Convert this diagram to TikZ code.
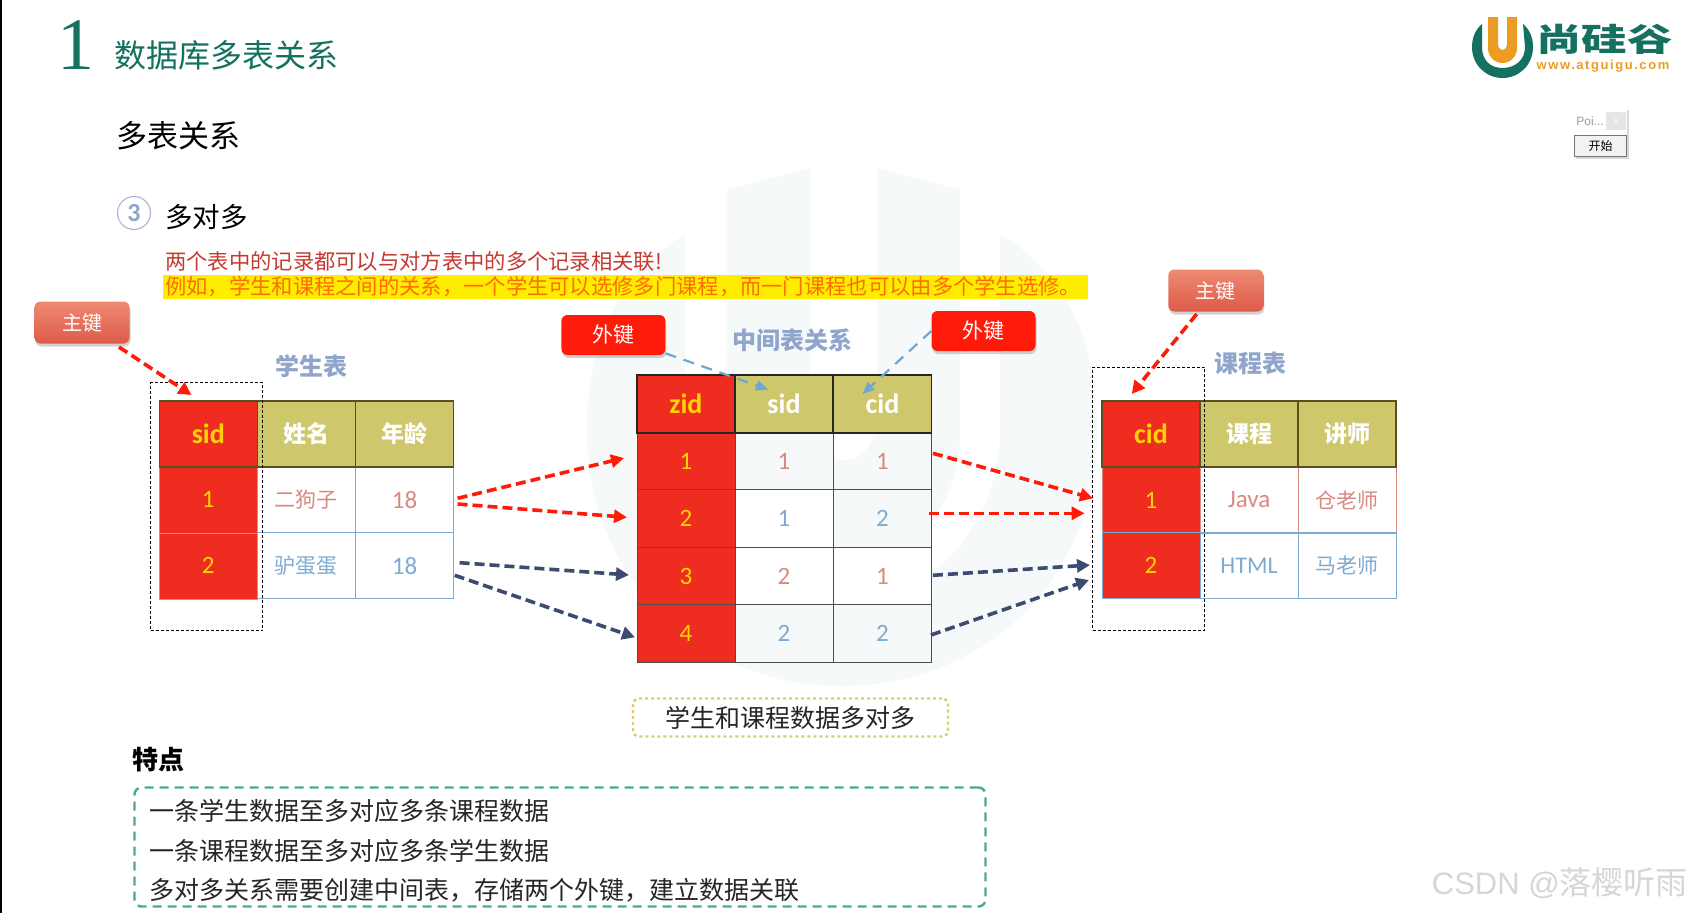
\documentclass[tikz,border=0pt]{standalone}
\usepackage{fontspec}
\usepackage{xcolor}
\usetikzlibrary{arrows.meta,shadows,shadings}
\setmainfont{Noto Sans CJK SC}
\newfontfamily\numfont{Carlito}
\newfontfamily\serffont{Liberation Serif}
\newfontfamily\armfont{Liberation Sans}
\newfontfamily\urlfont[LetterSpace=12]{Liberation Sans}
\newcommand{\px}[1]{\fontsize{#1}{#1}\selectfont}
\newcommand{\zhcomma}{^^^^ff0c}

\definecolor{brandgreen}{HTML}{14705F}
\definecolor{brandorange}{HTML}{EC9C22}
\definecolor{pale}{HTML}{F5F9F9}
\definecolor{cellred}{HTML}{EE2C20}
\definecolor{celltext}{HTML}{FFD400}
\definecolor{olive}{HTML}{CFC76C}
\definecolor{olivedark}{HTML}{5A4F22}
\definecolor{rowred}{HTML}{D98A80}
\definecolor{rowblue}{HTML}{7FAAD2}
\definecolor{tabletitle}{HTML}{8FA6CA}
\definecolor{flowred}{HTML}{FF1A0A}
\definecolor{flowblue}{HTML}{3B4C6E}
\definecolor{fkblue}{HTML}{6CA8D2}
\definecolor{boxteal}{HTML}{4BA98F}
\definecolor{boxolive}{HTML}{D8CE72}
\definecolor{keytop}{HTML}{EE8A72}
\definecolor{keybottom}{HTML}{DE5A48}

\tikzset{
  cell/.style={inner sep=0pt, outer sep=0pt, minimum width=98pt, minimum height=#1, align=center},
  cell/.default=66pt,
  pkcell/.style={cell=#1, fill=cellred, text=celltext, font=\numfont\px{25}},
  pkcell/.default=66pt,
  headcell/.style={cell=#1, fill=olive, draw=olivedark, line width=1.6pt, text=white, font=\bfseries\px{23}},
  headcell/.default=66pt,
  redrow/.style={cell, draw=rowred, line width=1pt, text=rowred, font=\px{21}},
  bluerow/.style={cell, draw=rowblue, line width=1pt, text=rowblue, font=\px{21}},
  midcell/.style={cell=57.5pt, draw=black!70, line width=1pt, font=\numfont\px{25}},
  dotbox/.style={draw=black, line width=0.9pt, densely dashed, minimum width=112pt, inner sep=0pt},
  mainkey/.style={rounded corners=6pt, top color=keytop, bottom color=keybottom,
    drop shadow={opacity=0.35, shadow xshift=1pt, shadow yshift=-3pt},
    text=white, minimum width=95pt, minimum height=42pt, inner sep=0pt, font=\px{20}},
  forkey/.style={rounded corners=6pt, fill=flowred, drop shadow={opacity=0.35, shadow xshift=1pt, shadow yshift=-3pt},
    text=white, minimum width=104pt, minimum height=40pt, inner sep=0pt, font=\px{21}},
  tabletag/.style={text=tabletitle, inner sep=0pt, font=\bfseries\px{24}},
  redflow/.style={->, draw=flowred, line width=3.6pt, dash pattern=on 10pt off 5pt},
  blueflow/.style={->, draw=flowblue, line width=3.6pt, dash pattern=on 10pt off 5pt},
  fkflow/.style={-{Triangle[length=12pt,width=10pt]}, draw=fkblue, line width=2.2pt, dash pattern=on 11pt off 8pt},
  bodyline/.style={anchor=west, inner sep=0pt, text=black!85, font=\px{25}},
}

\begin{document}
\begin{tikzpicture}[x=1pt, y=-1pt, >={Triangle[length=13pt,width=13pt]}]
  \useasboundingbox (0,0) rectangle (1689,913);
  \fill[white] (0,0) rectangle (1689,913);

  % Pale background mark
  \fill[pale] (685,235) .. controls (620,270) and (587,340) .. (587,430)
    .. controls (587,580) and (700,686) .. (842,686)
    .. controls (984,686) and (1097,580) .. (1097,430)
    .. controls (1097,340) and (1064,270) .. (1000,235)
    -- (1000,430) .. controls (1000,530) and (930,600) .. (842,600)
    .. controls (754,600) and (685,530) .. (685,430) -- cycle;
  \fill[pale] (727,190) -- (810,168) -- (810,410)
    .. controls (810,445) and (825,460) .. (843,460)
    .. controls (862,460) and (877,445) .. (877,410)
    -- (877,168) -- (960,190) -- (960,430)
    .. controls (960,510) and (910,565) .. (842,565)
    .. controls (775,565) and (727,510) .. (727,430) -- cycle;

  \draw[black, line width=1.6pt] (1,0) -- (1,913);

  % Title and logo
  \node (num) at (76,45) [text=brandgreen, inner sep=0pt, font=\serffont\px{74}] {1};
  \node (title) at (226.5,55) [text=brandgreen, inner sep=0pt, font=\px{32}] {数据库多表关系};
  \fill[brandgreen] (1482,24) .. controls (1475,30) and (1472,38) .. (1472,47)
    .. controls (1472,65) and (1486,78) .. (1502.5,78)
    .. controls (1519,78) and (1533,65) .. (1533,47)
    .. controls (1533,38) and (1530,30) .. (1523,24)
    -- (1525,47) .. controls (1525,60) and (1515,68) .. (1502.5,68)
    .. controls (1490,68) and (1482,60) .. (1482,47) -- cycle;
  \fill[brandorange] (1488,17) -- (1498,17) -- (1498,43)
    .. controls (1498,48) and (1500,50) .. (1502.5,50)
    .. controls (1505,50) and (1507,48) .. (1507,43)
    -- (1507,17) -- (1517,17) -- (1517,48)
    .. controls (1517,57) and (1510,63) .. (1502.5,63)
    .. controls (1495,63) and (1488,57) .. (1488,48) -- cycle;
  \node (logo) at (1604.5,39) [text=brandgreen, inner sep=0pt, font=\bfseries\px{32}] {\scalebox{1.42}[1]{尚硅谷}};
  \node (url) at (1603,66) [text=brandorange, inner sep=0pt, font=\urlfont\bfseries\px{13}] {www.atguigu.com};

  % Small pointer widget
  \node (poibox) at (1600.5,132.5) [fill=white, drop shadow={opacity=0.3, shadow xshift=2pt, shadow yshift=-2pt},
    minimum width=53pt, minimum height=49pt, inner sep=0pt] {};
  \node (poitext) at (1590,121) [text=black!40, inner sep=0pt, font=\armfont\px{12}] {Poi...};
  \node (poix) at (1616,121) [fill=black!10, text=white, minimum width=20pt, minimum height=18pt, inner sep=0pt, font=\armfont\px{9}] {x};
  \node (poibtn) at (1600.5,146) [fill=black!5, draw=black!55, line width=1.8pt, minimum width=52pt, minimum height=21pt,
    inner sep=0pt, font=\px{12}] {开始};

  % Section headings
  \node (head) at (178.5,136) [inner sep=0pt, font=\px{31}] {多表关系};
  \node (three) at (134,213) [circle, draw=tabletitle!80, line width=1.1pt, minimum size=33pt, inner sep=0pt,
    text=tabletitle, font=\numfont\bfseries\px{26}] {3};
  \node (mm) at (206.5,217) [inner sep=0pt, font=\px{27.5}] {多对多};
  \node (desc) at (165,261.5) [anchor=west, inner sep=0pt, text=cellred!80!black!90, font=\px{21.3}] {两个表中的记录都可以与对方表中的多个记录相关联!};
  \node (hlbar) at (625.5,287) [fill=yellow!95!orange, minimum width=925pt, minimum height=24pt, inner sep=0pt] {};
  \node (example) at (165,287) [anchor=west, inner sep=0pt, text=orange!85!red, font=\px{21.3}] {例如\zhcomma 学生和课程之间的关系\zhcomma 一个学生可以选修多门课程\zhcomma 而一门课程也可以由多个学生选修。};

  % Student table
  \node (skey) at (82,322.5) [mainkey] {主键};
  \node (stag) at (311.5,366) [tabletag] {学生表};
  \node (s1id) at (208.3,499.7) [pkcell, draw=rowred] {1};
  \node (s1name) at (306.3,499.7) [redrow] {二狗子};
  \node (s1age) at (404.5,499.7) [redrow, font=\numfont\px{25}] {18};
  \node (s2id) at (208.3,565.7) [pkcell, draw=rowblue] {2};
  \node (s2name) at (306.3,565.7) [bluerow] {驴蛋蛋};
  \node (s2age) at (404.5,565.7) [bluerow, font=\numfont\px{25}] {18};
  \node (shid) at (208.3,433.7) [headcell, fill=cellred, text=celltext, font=\numfont\bfseries\px{28}] {sid};
  \node (shname) at (306.3,433.7) [headcell] {姓名};
  \node (shage) at (404.5,433.7) [headcell] {年龄};
  \node (sbox) at (206.5,506.7) [dotbox, minimum height=248pt] {};

  % Middle table
  \node (ftag) at (792,340) [tabletag] {中间表关系};
  \node (fk1) at (613.4,335) [forkey] {外键};
  \node (fk2) at (983.5,331) [forkey] {外键};
  \node (z1) at (686,461.5) [midcell, fill=cellred, text=celltext] {1};
  \node (z2) at (686,518.5) [midcell, fill=cellred, text=celltext] {2};
  \node (z3) at (686,576) [midcell, fill=cellred, text=celltext] {3};
  \node (z4) at (686,633.5) [midcell, fill=cellred, text=celltext] {4};
  \node (a1) at (784,461.5) [midcell, text=rowred, fill=pale] {1};
  \node (a2) at (784,518.5) [midcell, text=rowblue, fill=white] {1};
  \node (a3) at (784,576) [midcell, text=rowred, fill=white] {2};
  \node (a4) at (784,633.5) [midcell, text=rowblue, fill=pale] {2};
  \node (b1) at (882.5,461.5) [midcell, text=rowred] {1};
  \node (b2) at (882.5,518.5) [midcell, text=rowblue, fill=pale] {2};
  \node (b3) at (882.5,576) [midcell, text=rowred, fill=white] {1};
  \node (b4) at (882.5,633.5) [midcell, text=rowblue, fill=pale] {2};
  \node (zh) at (686,404) [headcell=57.5pt, draw=black!85, fill=cellred, text=celltext, font=\numfont\bfseries\px{28}] {zid};
  \node (ah) at (784,404) [headcell=57.5pt, draw=black!85, font=\numfont\bfseries\px{28}] {sid};
  \node (bh) at (882.5,404) [headcell=57.5pt, draw=black!85, font=\numfont\bfseries\px{28}] {cid};

  % Course table
  \node (ckey) at (1215.8,290.5) [mainkey] {主键};
  \node (ctag) at (1250,363.5) [tabletag] {课程表};
  \node (c1id) at (1151,500) [pkcell, draw=rowred] {1};
  \node (c1name) at (1249,500) [redrow, font=\numfont\px{25}] {Java};
  \node (c1tea) at (1347,500) [redrow] {仓老师};
  \node (c2id) at (1151,565.5) [pkcell, draw=rowblue] {2};
  \node (c2name) at (1249,565.5) [bluerow, font=\numfont\px{24}] {HTML};
  \node (c2tea) at (1347,565.5) [bluerow] {马老师};
  \node (chid) at (1151,433.7) [headcell, fill=cellred, text=celltext, font=\numfont\bfseries\px{28}] {cid};
  \node (chname) at (1249,433.7) [headcell] {课程};
  \node (chtea) at (1347,433.7) [headcell] {讲师};
  \node (cbox) at (1148.7,498.5) [dotbox, minimum height=263pt] {};

  % Arrow ends
  \coordinate (stip) at (191.5,395);
  \coordinate (ctip) at (1131.7,394);
  \coordinate (ftip1) at (768,389.5);
  \coordinate (ftip2) at (862.5,394);
  \coordinate (l1) at (457.6,498.3);
  \coordinate (l2) at (457.6,504);
  \coordinate (l3) at (459.6,562.7);
  \coordinate (l4) at (454.7,575.3);
  \coordinate (m1) at (624,458);
  \coordinate (m2) at (627,517.3);
  \coordinate (m3) at (629,575);
  \coordinate (m4) at (635,637.3);
  \coordinate (n1) at (932.9,453.3);
  \coordinate (n2) at (928.6,513.3);
  \coordinate (n3) at (932.9,575.3);
  \coordinate (n4) at (931,635);
  \coordinate (r1) at (1093,498.3);
  \coordinate (r2) at (1084.6,513.3);
  \coordinate (r3) at (1090,565);
  \coordinate (r4) at (1089,580);

  % Draw arrows
  \draw[redflow, shorten <=6pt] (skey) -- (stip);
  \draw[redflow, shorten <=3pt] (ckey) -- (ctip);
  \draw[fkflow] (fk1) -- (ftip1);
  \draw[fkflow] (fk2.west) -- (ftip2);
  \draw[redflow] (l1) -- (m1);
  \draw[redflow] (l2) -- (m2);
  \draw[blueflow] (l3) -- (m3);
  \draw[blueflow] (l4) -- (m4);
  \draw[redflow] (n1) -- (r1);
  \draw[redflow] (n2) -- (r2);
  \draw[blueflow] (n3) -- (r3);
  \draw[blueflow] (n4) -- (r4);

  % Notes
  \node (note) at (790.5,717.5) [draw=boxolive, line width=2.4pt, dashed, rounded corners=6pt, minimum width=315pt, minimum height=38pt,
    inner sep=0pt, text=black!85, font=\px{25}] {学生和课程数据多对多};
  \node (feat) at (158,760) [inner sep=0pt, font=\bfseries\px{26}] {特点};
  \node (featbox) at (560,847) [draw=boxteal, line width=2.4pt, dash pattern=on 9pt off 6pt, rounded corners=7pt, minimum width=851pt, minimum height=119pt, inner sep=0pt] {};
  \node (line1) at (148.8,810.7) [bodyline] {一条学生数据至多对应多条课程数据};
  \node (line2) at (148.8,851) [bodyline] {一条课程数据至多对应多条学生数据};
  \node (line3) at (148.8,890) [bodyline] {多对多关系需要创建中间表\zhcomma 存储两个外键\zhcomma 建立数据关联};

  \node (csdn) at (1688,883) [anchor=east, inner sep=0pt, text=black!16, font=\px{32}] {{\armfont\px{31}CSDN @}落樱听雨};
\end{tikzpicture}
\end{document}
